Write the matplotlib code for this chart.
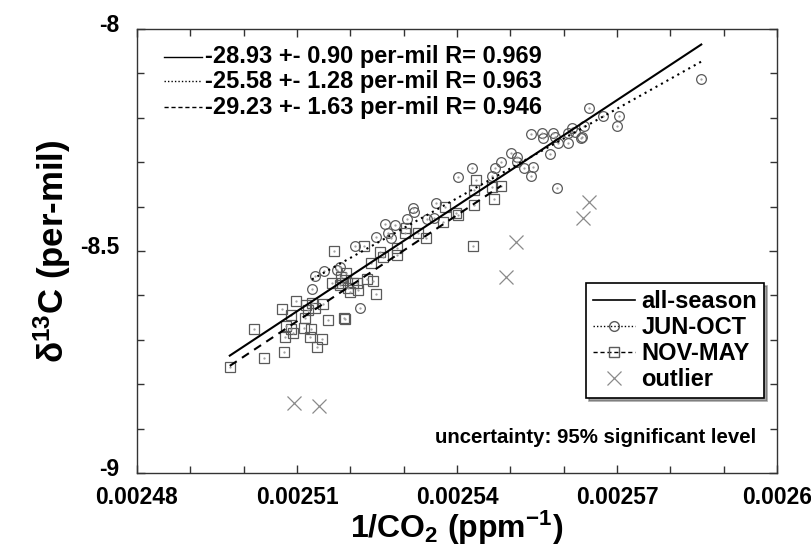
import matplotlib
matplotlib.use('Agg')
import matplotlib.pyplot as plt
import matplotlib.transforms as mtransforms
from matplotlib.lines import Line2D
import numpy as np

plt.rcParams['font.family'] = ['Liberation Sans', 'DejaVu Sans']
plt.rcParams['font.weight'] = 'bold'
plt.rcParams['axes.labelweight'] = 'bold'
plt.rcParams['mathtext.fontset'] = 'custom'
plt.rcParams['mathtext.rm'] = 'Liberation Sans:bold'
plt.rcParams['mathtext.bf'] = 'Liberation Sans:bold'
plt.rcParams['mathtext.it'] = 'Liberation Sans:bold'
plt.rcParams['mathtext.default'] = 'rm'

# JUN-OCT samples (1/CO2, d13C)
jun_x = [0.0025128, 0.0025134, 0.0025151, 0.0025181, 0.0025175, 0.0025209, 0.0025218,
         0.0025402, 0.0025361, 0.0025318, 0.0025319, 0.0025306, 0.0025344, 0.0025357,
         0.0025265, 0.0025284, 0.0025271, 0.0025276, 0.0025248, 0.0025539, 0.0025559,
         0.0025561, 0.0025580, 0.0025584, 0.0025589, 0.0025608, 0.0025616, 0.0025621,
         0.0025608, 0.0025634, 0.0025638, 0.0025501, 0.0025513, 0.0025513, 0.0025483,
         0.0025574, 0.0025526, 0.0025543, 0.0025539, 0.0025471, 0.0025466, 0.0025428,
         0.0025588, 0.0025648, 0.0025674, 0.0025704, 0.0025700, 0.0025633, 0.0025858]
jun_y = [-8.586, -8.556, -8.545, -8.536, -8.543, -8.489, -8.628,
         -8.333, -8.392, -8.403, -8.412, -8.428, -8.428, -8.426,
         -8.439, -8.441, -8.459, -8.471, -8.468, -8.236, -8.234,
         -8.245, -8.234, -8.243, -8.257, -8.234, -8.223, -8.232,
         -8.257, -8.243, -8.218, -8.279, -8.288, -8.300, -8.300,
         -8.281, -8.313, -8.311, -8.331, -8.313, -8.331, -8.313,
         -8.358, -8.178, -8.196, -8.196, -8.218, -8.245, -8.113]

# NOV-MAY samples
nov_x = [0.0024974, 0.0025019, 0.0025038, 0.0025076, 0.0025072, 0.0025098, 0.0025089,
         0.0025117, 0.0025121, 0.0025115, 0.0025134, 0.0025149, 0.0025128, 0.0025079,
         0.0025089, 0.0025078, 0.0025093, 0.0025113, 0.0025126, 0.0025124, 0.0025147,
         0.0025138, 0.0025158, 0.0025188, 0.0025166, 0.0025184, 0.0025183, 0.0025169,
         0.0025226, 0.0025256, 0.0025261, 0.0025239, 0.0025192, 0.0025196, 0.0025205,
         0.0025214, 0.0025231, 0.0025243, 0.0025248, 0.0025190, 0.0025378, 0.0025398,
         0.0025374, 0.0025304, 0.0025303, 0.0025327, 0.0025342, 0.0025288, 0.0025288,
         0.0025190, 0.0025181, 0.0025213, 0.0025199, 0.0025436, 0.0025432, 0.0025466,
         0.0025483, 0.0025432, 0.0025470, 0.0025402, 0.0025430]
nov_y = [-8.761, -8.676, -8.741, -8.727, -8.631, -8.613, -8.644,
         -8.622, -8.633, -8.651, -8.628, -8.619, -8.617, -8.669,
         -8.676, -8.694, -8.685, -8.673, -8.676, -8.694, -8.698,
         -8.716, -8.655, -8.651, -8.572, -8.572, -8.559, -8.500,
         -8.489, -8.502, -8.514, -8.527, -8.550, -8.583, -8.572,
         -8.588, -8.563, -8.568, -8.597, -8.653, -8.401, -8.414,
         -8.435, -8.448, -8.459, -8.459, -8.471, -8.493, -8.509,
         -8.565, -8.577, -8.572, -8.592, -8.340, -8.363, -8.356,
         -8.354, -8.396, -8.383, -8.419, -8.489]

# outliers
out_x = [0.0025094, 0.0025141, 0.0025492, 0.0025511, 0.0025636, 0.0025648]
out_y = [-8.842, -8.849, -8.559, -8.480, -8.426, -8.390]

# fitted lines as drawn (intercept, slope)
fit_all = (-28.53, 7926.0)
fit_jun = (-25.45, 6720.0)
fit_nov = (-28.663, 7970.0)

fit_labels = ['-28.93 +- 0.90 per-mil R= 0.969',
              '-25.58 +- 1.28 per-mil R= 0.963',
              '-29.23 +- 1.63 per-mil R= 0.946']

x_ticks = [0.00248, 0.00251, 0.00254, 0.00257, 0.0026]
x_ticklabels = ['0.00248', '0.00251', '0.00254', '0.00257', '0.0026']
y_ticks = [-9, -8.5, -8]
y_ticklabels = ['-9', '-8.5', '-8']

fig = plt.figure(figsize=(8.11, 5.58), dpi=100)
ax = fig.add_axes([137/811, 1 - 473/558, 640/811, 444/558])

mk_col = '#5a5a5a'

all_x = np.array(jun_x + nov_x)
xa = np.array([all_x.min(), all_x.max()])
ax.plot(xa, fit_all[0] + fit_all[1]*xa, color='black', lw=1.5, zorder=3)
xj = np.array([min(jun_x), max(jun_x)])
ax.plot(xj, fit_jun[0] + fit_jun[1]*xj, color='black', lw=1.5, ls=(0, (1, 2)), zorder=3)
xn = np.array([min(nov_x), max(nov_x)])
ax.plot(xn, fit_nov[0] + fit_nov[1]*xn, color='black', lw=1.5, ls=(0, (4, 3)), zorder=3)

ax.plot(jun_x, jun_y, 'o', mfc='none', mec=mk_col, ms=7, mew=0.9, zorder=2)
ax.plot(nov_x, nov_y, 's', mfc='none', mec=mk_col, ms=6.5, mew=0.9, zorder=2)
# tiny centre dots, as in the original plot symbols
ax.plot(jun_x + nov_x, jun_y + nov_y, '.', color='#9a9a9a', ms=1.2, zorder=2)
ax.plot(out_x, out_y, 'x', color='#8a8a8a', ms=10, mew=0.9, zorder=2)

ax.set_xlim(0.00248, 0.0026)
ax.set_ylim(-9, -8)
ax.set_xticks(x_ticks)
ax.set_xticklabels(x_ticklabels)
ax.set_xticks(np.arange(0.00248, 0.0026001, 0.00001), minor=True)
ax.set_yticks(y_ticks)
ax.set_yticklabels(y_ticklabels)
ax.set_yticks(np.arange(-9, -7.99, 0.1), minor=True)
ax.tick_params(which='both', direction='in', top=True, right=True, width=1, color='#333333')
ax.tick_params(which='major', length=6, labelsize=16.5)
ax.tick_params(which='minor', length=5)
ax.tick_params(axis='x', pad=9)
ax.tick_params(axis='y', pad=13)
for lab in ax.get_yticklabels():
    lab.set_transform(lab.get_transform() + mtransforms.ScaledTranslation(0, 4/72, fig.dpi_scale_trans))
for sp in ax.spines.values():
    sp.set_color('#333333')
    sp.set_linewidth(1.0)

ax.set_xlabel(r'1/CO$_2$ (ppm$^{-1}$)', fontsize=23, labelpad=0)
ax.set_ylabel(r'$\delta^{13}$C (per-mil)', fontsize=25, labelpad=5)

# fit summary at the upper left
styles = ['-', (0, (1, 1.5)), (0, (3, 2))]
ys = [0.938, 0.882, 0.824]
for st, yy, txt in zip(styles, ys, fit_labels):
    ax.plot([0.042, 0.102], [yy, yy], color='black', lw=1, ls=st, transform=ax.transAxes)
    ax.text(0.106, yy, txt, transform=ax.transAxes, fontsize=17, ha='left', va='center')

handles = [Line2D([], [], color='black', lw=1.2, ls='-'),
           Line2D([], [], color='black', lw=1, ls=(0, (1, 1.5)), marker='o', mfc='none', mec=mk_col, ms=7),
           Line2D([], [], color='black', lw=1, ls=(0, (3, 2)), marker='s', mfc='none', mec=mk_col, ms=6.5),
           Line2D([], [], ls='none', marker='x', color='#8a8a8a', ms=10, mew=0.9)]
leg = ax.legend(handles, ['all-season', 'JUN-OCT', 'NOV-MAY', 'outlier'],
                loc='lower right', bbox_to_anchor=(0.98, 0.169), fontsize=17,
                frameon=True, fancybox=False, shadow=True, edgecolor='black',
                framealpha=1, handlelength=1.8, handletextpad=0.25,
                labelspacing=0.12, borderpad=0.3, borderaxespad=0)
leg.get_frame().set_linewidth(1.2)

ax.text(0.967, 0.079, 'uncertainty: 95% significant level', transform=ax.transAxes,
        fontsize=14.7, ha='right', va='center')

fig.savefig('out.png', dpi=100)
